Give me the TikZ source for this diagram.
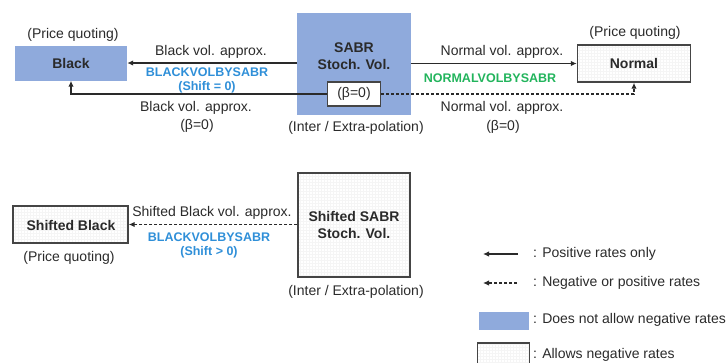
\documentclass[tikz,border=0pt]{standalone}
\usepackage{fontspec}
\setmainfont{Liberation Sans}
\usetikzlibrary{arrows.meta,patterns}
\definecolor{sabrblue}{HTML}{8FAADC}
\definecolor{fnblue}{HTML}{2F8FD8}
\definecolor{fngreen}{HTML}{22B45C}
\definecolor{txt}{HTML}{2A2A2A}
\definecolor{edge}{HTML}{454545}
\tikzset{
  bluebox/.style={fill=sabrblue, draw=none, inner sep=0pt},
  gridbox/.style={draw=edge, line width=1.4pt, pattern=grid, pattern color=black!4, inner sep=0pt},
  betabox/.style={draw=edge, line width=1.3pt, fill=white, inner sep=0pt, minimum width=53pt, minimum height=24pt},
  lbl/.style={text=txt, inner sep=0pt, align=center},
  fnlbl/.style={font=\fontsize{12.5}{15}\selectfont\bfseries, inner sep=0pt},
  conn/.style={line width=1.3pt, draw=txt, -{Latex[length=6pt,width=5.5pt]}},
  dconn/.style={conn, dash pattern=on 3pt off 2pt}
}
\begin{document}
\begin{tikzpicture}[x=1pt,y=-1pt, font=\fontsize{14}{17}\selectfont, text=txt]
\useasboundingbox (0,0) rectangle (728,362);
% top row
\node[bluebox, minimum width=112pt, minimum height=35pt] (black) at (71,63) {};
\node[lbl, font=\fontsize{14}{17}\selectfont\bfseries] (blacktxt) at (71,63) {Black};
\node[lbl] (pq1) at (73,35) {(Price quoting)};

\node[bluebox, minimum width=114pt, minimum height=102pt] (sabr) at (354,64) {};
\node[lbl, font=\fontsize{14}{17}\selectfont\bfseries] (sabrtxt) at (354,56) {SABR\\Stoch. Vol.};
\node[betabox] (beta) at (354,94) {(β=0)};
\node[lbl] (ip1) at (356,128) {(Inter / Extra-polation)};

\node[gridbox, minimum width=113pt, minimum height=37pt] (normal) at (634,63.5) {};
\node[lbl, font=\fontsize{14}{17}\selectfont\bfseries] (normaltxt) at (634,63.5) {Normal};
\node[lbl] (pq2) at (635,33) {(Price quoting)};

\draw[conn] (sabr.west |- black.east) -- (black.east);
\draw[conn] (beta.west) -| (black.south);
\draw[conn] (sabr.east |- normal.west) -- (normal.west);
\draw[dconn] (beta.east) -| (normal.south);

\node[lbl] (l1) at (211,52) {Black vol. approx.};
\node[fnlbl, text=fnblue] (f1) at (207,72) {BLACKVOLBYSABR};
\node[fnlbl, text=fnblue] (s1) at (207,87) {(Shift = 0)};
\node[lbl] (l2) at (196,108) {Black vol. approx.};
\node[lbl] (b1) at (197,126) {(β=0)};

\node[lbl] (l3) at (502,52) {Normal vol. approx.};
\node[fnlbl, text=fngreen] (f2) at (490,78) {NORMALVOLBYSABR};
\node[lbl] (l4) at (502,108) {Normal vol. approx.};
\node[lbl] (b2) at (503,127) {(β=0)};

% bottom row
\node[gridbox, minimum width=115pt, minimum height=37pt] (sblack) at (70.5,224.5) {};
\node[lbl, font=\fontsize{14}{17}\selectfont\bfseries] (sblacktxt) at (71,225) {Shifted Black};
\node[lbl] (pq3) at (69,258) {(Price quoting)};

\node[gridbox, minimum width=112pt, minimum height=104pt] (ssabr) at (354,225) {};
\node[lbl, font=\fontsize{14}{17}\selectfont\bfseries] (ssabrtxt) at (354,225) {Shifted SABR\\Stoch. Vol.};
\node[lbl] (ip2) at (356,292) {(Inter / Extra-polation)};

\draw[dconn] (ssabr.west |- sblack.east) -- (sblack.east);
\node[lbl] (l5) at (212,213) {Shifted Black vol. approx.};
\node[fnlbl, text=fnblue] (f3) at (209,237) {BLACKVOLBYSABR};
\node[fnlbl, text=fnblue] (s3) at (209,252) {(Shift > 0)};

% legend
\coordinate (a1s) at (518,254);
\coordinate (a1e) at (483,254);
\draw[conn] (a1s) -- (a1e);
\node[lbl, anchor=west] (t1) at (533,254) {: Positive rates only};
\coordinate (a2s) at (517,283);
\coordinate (a2e) at (483,283);
\draw[dconn] (a2s) -- (a2e);
\node[lbl, anchor=west] (t2) at (533,283) {: Negative or positive rates};
\node[bluebox, minimum width=50pt, minimum height=18pt] (k1) at (504,321) {};
\node[lbl, anchor=west] (t3) at (533,320) {: Does not allow negative rates};
\node[gridbox, minimum width=52pt, minimum height=24pt] (k2) at (503.5,355) {};
\node[lbl, anchor=west] (t4) at (533,355) {: Allows negative rates};
\end{tikzpicture}
\end{document}
